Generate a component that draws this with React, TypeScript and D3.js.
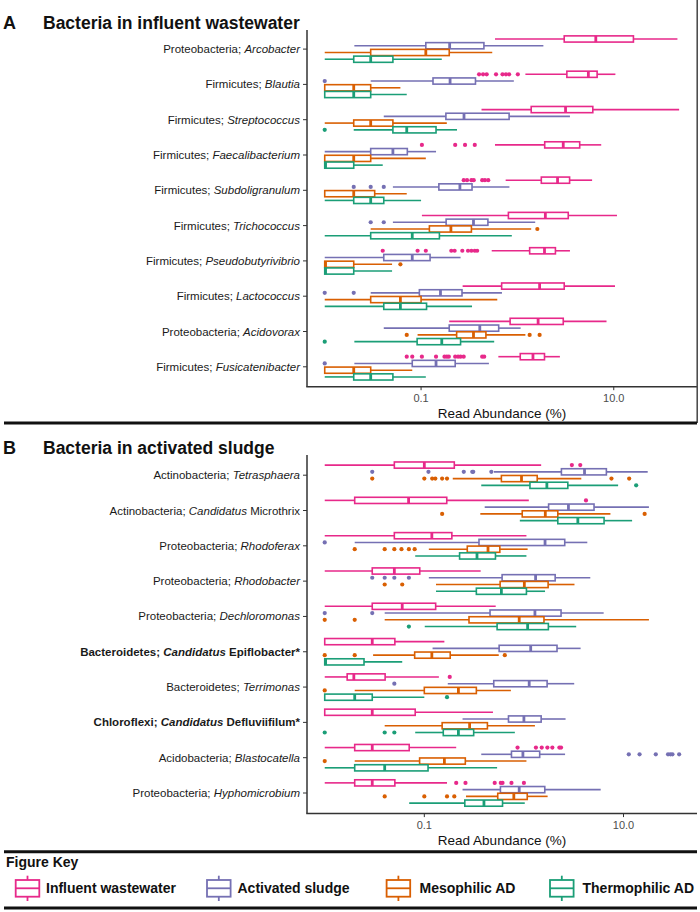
import React from 'react';
import * as d3 from 'd3';

const FONT = "'Liberation Sans', Arial, Helvetica, sans-serif";

const groups = ['Influent wastewater', 'Activated sludge', 'Mesophilic AD', 'Thermophilic AD'];
const groupColors = ['#E7298A', '#7570B3', '#D95F02', '#1B9E77'];

type Seg = [string, string];

// ---------- Panel A: Bacteria in influent wastewater ----------
const labelsA: Seg[][] = [
  [['Proteobacteria; ', 'n'], ['Arcobacter', 'i']],
  [['Firmicutes; ', 'n'], ['Blautia', 'i']],
  [['Firmicutes; ', 'n'], ['Streptococcus', 'i']],
  [['Firmicutes; ', 'n'], ['Faecalibacterium', 'i']],
  [['Firmicutes; ', 'n'], ['Subdoligranulum', 'i']],
  [['Firmicutes; ', 'n'], ['Trichococcus', 'i']],
  [['Firmicutes; ', 'n'], ['Pseudobutyrivibrio', 'i']],
  [['Firmicutes; ', 'n'], ['Lactococcus', 'i']],
  [['Proteobacteria; ', 'n'], ['Acidovorax', 'i']],
  [['Firmicutes; ', 'n'], ['Fusicatenibacter', 'i']],
];

// five-number summaries [lower whisker, Q1, median, Q3, upper whisker] (%)
const influentA = [
  [0.585, 3.06, 6.51, 16.0, 45.8],
  [1.21, 3.26, 5.45, 6.72, 10.4],
  [0.424, 1.39, 3.16, 6.06, 47.7],
  [0.585, 1.92, 2.99, 4.43, 7.41],
  [0.755, 1.77, 2.61, 3.48, 5.96],
  [0.102, 0.806, 1.95, 3.37, 10.8],
  [0.541, 1.34, 1.91, 2.48, 3.51],
  [0.27, 0.686, 1.7, 3.06, 10.3],
  [0.196, 0.84, 1.64, 2.99, 8.41],
  [0.634, 1.07, 1.45, 1.91, 2.76],
];
const activatedA = [
  [0.0203, 0.112, 0.198, 0.449, 1.86],
  [0.03, 0.133, 0.2, 0.367, 0.918],
  [0.041, 0.181, 0.279, 0.82, 3.51],
  [0.01, 0.03, 0.051, 0.072, 0.143],
  [0.051, 0.153, 0.253, 0.338, 0.826],
  [0.051, 0.182, 0.35, 0.494, 1.53],
  [0.01, 0.041, 0.081, 0.124, 0.257],
  [0.03, 0.096, 0.159, 0.266, 0.691],
  [0.041, 0.196, 0.407, 0.639, 1.08],
  [0.0203, 0.081, 0.143, 0.226, 0.506],
];
const mesoA = [
  [0.01, 0.03, 0.112, 0.196, 0.548],
  [0.01, 0.01, 0.02, 0.03, 0.061],
  [0.01, 0.02, 0.03, 0.051, 0.185],
  [0.01, 0.01, 0.02, 0.03, 0.112],
  [0.01, 0.01, 0.02, 0.033, 0.071],
  [0.03, 0.122, 0.204, 0.333, 1.39],
  [0.01, 0.01, 0.0102, 0.02, 0.05],
  [0.01, 0.03, 0.061, 0.1, 0.618],
  [0.092, 0.234, 0.35, 0.471, 1.21],
  [0.01, 0.01, 0.02, 0.03, 0.081],
];
const thermoA = [
  [0.01, 0.02, 0.03, 0.051, 0.164],
  [0.01, 0.01, 0.02, 0.03, 0.071],
  [0.02, 0.051, 0.071, 0.143, 0.236],
  [0.01, 0.01, 0.0102, 0.02, 0.04],
  [0.01, 0.02, 0.03, 0.041, 0.1],
  [0.01, 0.03, 0.081, 0.155, 0.875],
  [0.01, 0.01, 0.0102, 0.02, 0.05],
  [0.01, 0.041, 0.061, 0.114, 0.338],
  [0.0203, 0.091, 0.164, 0.257, 0.574],
  [0.01, 0.02, 0.03, 0.051, 0.112],
];
const influentOutA = [
  [],
  [0.4, 0.44, 0.48, 0.6, 0.7, 0.76, 0.82, 1.01],
  [],
  [0.102, 0.226, 0.286, 0.361],
  [0.277, 0.3, 0.333, 0.352, 0.431, 0.46, 0.498],
  [],
  [0.04, 0.092, 0.112, 0.206, 0.223, 0.268, 0.307, 0.333, 0.361, 0.382],
  [],
  [],
  [0.071, 0.081, 0.102, 0.143, 0.175, 0.185, 0.194, 0.226, 0.242, 0.257, 0.277, 0.431, 0.452],
];
const activatedOutA = [[], [0.01], [], [], [0.02, 0.03, 0.041], [0.03, 0.041], [], [0.01, 0.02], [], [0.01]];
const mesoOutA = [[], [], [], [], [], [1.61], [0.061], [], [0.071, 1.34, 1.7], []];
const thermoOutA = [[], [], [0.01], [], [], [], [], [], [0.01], []];

// ---------- Panel B: Bacteria in activated sludge ----------
const labelsB: Seg[][] = [
  [['Actinobacteria; ', 'n'], ['Tetrasphaera', 'i']],
  [['Actinobacteria; ', 'n'], ['Candidatus', 'i'], [' Microthrix', 'n']],
  [['Proteobacteria; ', 'n'], ['Rhodoferax', 'i']],
  [['Proteobacteria; ', 'n'], ['Rhodobacter', 'i']],
  [['Proteobacteria; ', 'n'], ['Dechloromonas', 'i']],
  [['Bacteroidetes; ', 'b'], ['Candidatus', 'bi'], [' Epiflobacter*', 'b']],
  [['Bacteroidetes; ', 'n'], ['Terrimonas', 'i']],
  [['Chloroflexi; ', 'b'], ['Candidatus', 'bi'], [' Defluviifilum*', 'b']],
  [['Acidobacteria; ', 'n'], ['Blastocatella', 'i']],
  [['Proteobacteria; ', 'n'], ['Hyphomicrobium', 'i']],
];
const influentB = [
  [0.01, 0.05, 0.1, 0.2, 1.49],
  [0.01, 0.02, 0.0695, 0.168, 1.12],
  [0.01, 0.05, 0.119, 0.189, 1.06],
  [0.01, 0.03, 0.05, 0.09, 0.368],
  [0.01, 0.03, 0.06, 0.13, 0.521],
  [0.01, 0.01, 0.03, 0.0506, 0.159],
  [0.01, 0.0168, 0.0196, 0.0404, 0.14],
  [0.01, 0.01, 0.03, 0.081, 0.489],
  [0.01, 0.02, 0.03, 0.0705, 0.209],
  [0.01, 0.02, 0.03, 0.0506, 0.169],
];
const activatedB = [
  [0.5, 2.38, 4.06, 6.73, 17.5],
  [0.404, 1.77, 2.8, 5.06, 18.0],
  [0.02, 0.354, 1.63, 2.57, 4.33],
  [0.111, 0.604, 1.31, 2.06, 4.64],
  [0.04, 0.457, 1.29, 2.36, 6.32],
  [0.121, 0.564, 1.17, 2.15, 3.71],
  [0.172, 0.498, 1.13, 1.71, 3.2],
  [0.242, 0.7, 1.0, 1.49, 2.62],
  [0.373, 0.75, 0.977, 1.44, 2.59],
  [0.242, 0.581, 0.897, 1.62, 5.9],
];
const mesoB = [
  [0.193, 0.594, 0.946, 1.36, 3.77],
  [0.365, 0.962, 1.64, 2.19, 7.39],
  [0.111, 0.27, 0.436, 0.573, 1.09],
  [0.131, 0.577, 1.01, 1.75, 3.22],
  [0.04, 0.281, 0.897, 1.59, 18.0],
  [0.0306, 0.08, 0.119, 0.182, 0.559],
  [0.02, 0.1, 0.22, 0.333, 0.74],
  [0.04, 0.151, 0.285, 0.43, 1.29],
  [0.02, 0.0897, 0.159, 0.258, 1.06],
  [0.262, 0.546, 0.792, 1.08, 1.73],
];
const thermoB = [
  [0.373, 1.15, 1.7, 2.76, 8.83],
  [0.91, 2.19, 3.48, 6.38, 12.2],
  [0.081, 0.226, 0.338, 0.518, 1.06],
  [0.131, 0.333, 0.594, 1.06, 1.63],
  [0.101, 0.538, 1.09, 1.76, 3.35],
  [0.01, 0.01, 0.0102, 0.0248, 0.06],
  [0.01, 0.01, 0.02, 0.03, 0.1],
  [0.081, 0.155, 0.22, 0.313, 0.811],
  [0.01, 0.02, 0.04, 0.109, 0.538],
  [0.0705, 0.255, 0.397, 0.61, 1.02],
];
const influentOutB = [
  [3.03, 3.68], [4.2], [], [], [], [], [0.18], [],
  [0.863, 1.32, 1.51, 1.72, 1.93, 2.27, 2.36],
  [0.209, 0.259, 0.509, 0.586, 0.61, 0.75, 1.0],
];
const activatedOutB = [
  [0.03, 0.11, 0.249, 0.303, 0.31, 0.471], [], [0.01], [0.03, 0.04, 0.05, 0.07], [0.01, 0.03], [], [0.05], [],
  [11.3, 14.5, 21.1, 28.0, 29.6, 31.0, 36.2], [],
];
const mesoOutB = [
  [0.03, 0.1, 0.12, 0.129, 0.151, 0.169, 7.57, 11.4], [0.151, 16.3], [0.02, 0.04, 0.05, 0.059, 0.07, 0.08],
  [0.04, 0.06], [0.01, 0.02], [0.01, 0.02, 0.643], [0.01], [], [0.01], [0.04, 0.1, 0.169, 0.2],
];
const thermoOutB = [[13.4], [], [], [], [0.07], [], [0.169], [0.01, 0.04, 0.05], [], []];

const xTicks = [0.1, 10];
const xTickLabels = ['0.1', '10.0'];

const AX = '#333333';

interface PanelProps {
  letter: string;
  title: string;
  labels: Seg[][];
  stats: number[][][];
  outs: number[][][];
  domain: [number, number];
  top: number;
  bottom: number;
  firstY: number;
  lastY: number;
}

function Panel(p: PanelProps) {
  const x = d3.scaleLog().domain(p.domain).range([307, 697]);
  const cats = p.labels.map((_, i) => String(i));
  const y = d3.scalePoint<string>().domain(cats).range([p.firstY, p.lastY]);
  const dodge = 6.75;
  const bh = 3.1;
  return (
    <g>
      <text x={3} y={p.top - 1.5} fontFamily={FONT} fontWeight="bold" fontSize={18} fill="#111">{p.letter}</text>
      <text x={43} y={p.top - 1.5} fontFamily={FONT} fontWeight="bold" fontSize={17.5} fill="#111">{p.title}</text>
      {p.labels.map((segs, i) => {
        const cy = y(String(i))!;
        return (
          <g key={'l' + i}>
            <text x={300} y={cy + 4} textAnchor="end" fontFamily={FONT} fontSize={11.5} fill="#1a1a1a" style={{ whiteSpace: 'pre' }}>
              {segs.map((s, k) => (
                <tspan key={k} fontStyle={s[1].includes('i') ? 'italic' : 'normal'} fontWeight={s[1].includes('b') ? 'bold' : 'normal'}>{s[0]}</tspan>
              ))}
            </text>
            <line x1={303} x2={307} y1={cy} y2={cy} stroke={AX} strokeWidth={1} />
          </g>
        );
      })}
      {p.labels.map((_, i) => {
        const cy0 = y(String(i))!;
        return groupColors.map((col, g) => {
          const s = p.stats[g][i];
          const cy = cy0 + (g - 1.5) * dodge;
          const [lo, q1, md, q3, hi] = s.map((v) => x(v));
          return (
            <g key={'b' + i + '_' + g}>
              {p.outs[g][i].map((v, k) => (
                <circle key={k} cx={x(v)} cy={cy} r={2.1} fill={col} />
              ))}
              {q1 - lo > 0.5 && <line x1={lo} x2={q1} y1={cy} y2={cy} stroke={col} strokeWidth={1.6} />}
              {hi - q3 > 0.5 && <line x1={q3} x2={hi} y1={cy} y2={cy} stroke={col} strokeWidth={1.6} />}
              <rect x={q1} y={cy - bh} width={Math.max(q3 - q1, 0.5)} height={bh * 2} fill="white" stroke={col} strokeWidth={1.6} />
              <line x1={md} x2={md} y1={cy - bh} y2={cy + bh} stroke={col} strokeWidth={2.8} />
            </g>
          );
        });
      })}
      <line x1={307} x2={307} y1={p.top} y2={p.bottom} stroke={AX} strokeWidth={1.5} />
      <line x1={306.25} x2={697} y1={p.bottom} y2={p.bottom} stroke={AX} strokeWidth={1.5} />
      {xTicks.map((t, i) => (
        <g key={'t' + i}>
          <line x1={x(t)} x2={x(t)} y1={p.bottom} y2={p.bottom + 3.5} stroke={AX} strokeWidth={1} />
          <text x={x(t)} y={p.bottom + 15.5} textAnchor="middle" fontFamily={FONT} fontSize={11} fill="#4d4d4d">{xTickLabels[i]}</text>
        </g>
      ))}
      <text x={502} y={p.bottom + 31.5} textAnchor="middle" fontFamily={FONT} fontSize={13.5} fill="#111">Read Abundance (%)</text>
    </g>
  );
}

const legendIconX = [15.7, 207, 386.6, 550];
const legendTextX = [46, 237.5, 419.5, 582.5];

export default function App() {
  return (
    <svg width={700} height={912} style={{ display: 'block', position: 'absolute', left: 0, top: 0 }}>
      <rect x={0} y={0} width={700} height={912} fill="white" />
      <Panel
        letter="A"
        title="Bacteria in influent wastewater"
        labels={labelsA}
        stats={[influentA, activatedA, mesoA, thermoA]}
        outs={[influentOutA, activatedOutA, mesoOutA, thermoOutA]}
        domain={[Math.pow(10, -2.184), Math.pow(10, 1.864)]}
        top={30}
        bottom={386.7}
        firstY={49.1}
        lastY={366.8}
      />
      <Panel
        letter="B"
        title="Bacteria in activated sludge"
        labels={labelsB}
        stats={[influentB, activatedB, mesoB, thermoB]}
        outs={[influentOutB, activatedOutB, mesoOutB, thermoOutB]}
        domain={[Math.pow(10, -2.178), Math.pow(10, 1.738)]}
        top={455}
        bottom={813.6}
        firstY={475.2}
        lastY={793}
      />
      <line x1={697.2} x2={697.2} y1={0} y2={423} stroke="#444" strokeWidth={1.5} />
      <line x1={4} x2={697} y1={423} y2={423} stroke="#111" strokeWidth={3} />
      <line x1={4} x2={697} y1={851.7} y2={851.7} stroke="#111" strokeWidth={3} />
      <line x1={4} x2={697} y1={908} y2={908} stroke="#111" strokeWidth={3} />
      <text x={6} y={866.7} fontFamily={FONT} fontWeight="bold" fontSize={14} fill="#111">Figure Key</text>
      {groups.map((g, i) => {
        const x0 = legendIconX[i];
        const cx = x0 + 11.8;
        const col = groupColors[i];
        return (
          <g key={g}>
            <line x1={cx} x2={cx} y1={875.7} y2={901} stroke={col} strokeWidth={1.8} />
            <rect x={x0} y={880} width={23.6} height={16.7} fill="white" stroke={col} strokeWidth={1.8} />
            <line x1={x0} x2={x0 + 23.6} y1={888.3} y2={888.3} stroke={col} strokeWidth={1.8} />
            <text x={legendTextX[i]} y={893} fontFamily={FONT} fontWeight="bold" fontSize={14} fill="#111">{g}</text>
          </g>
        );
      })}
    </svg>
  );
}
